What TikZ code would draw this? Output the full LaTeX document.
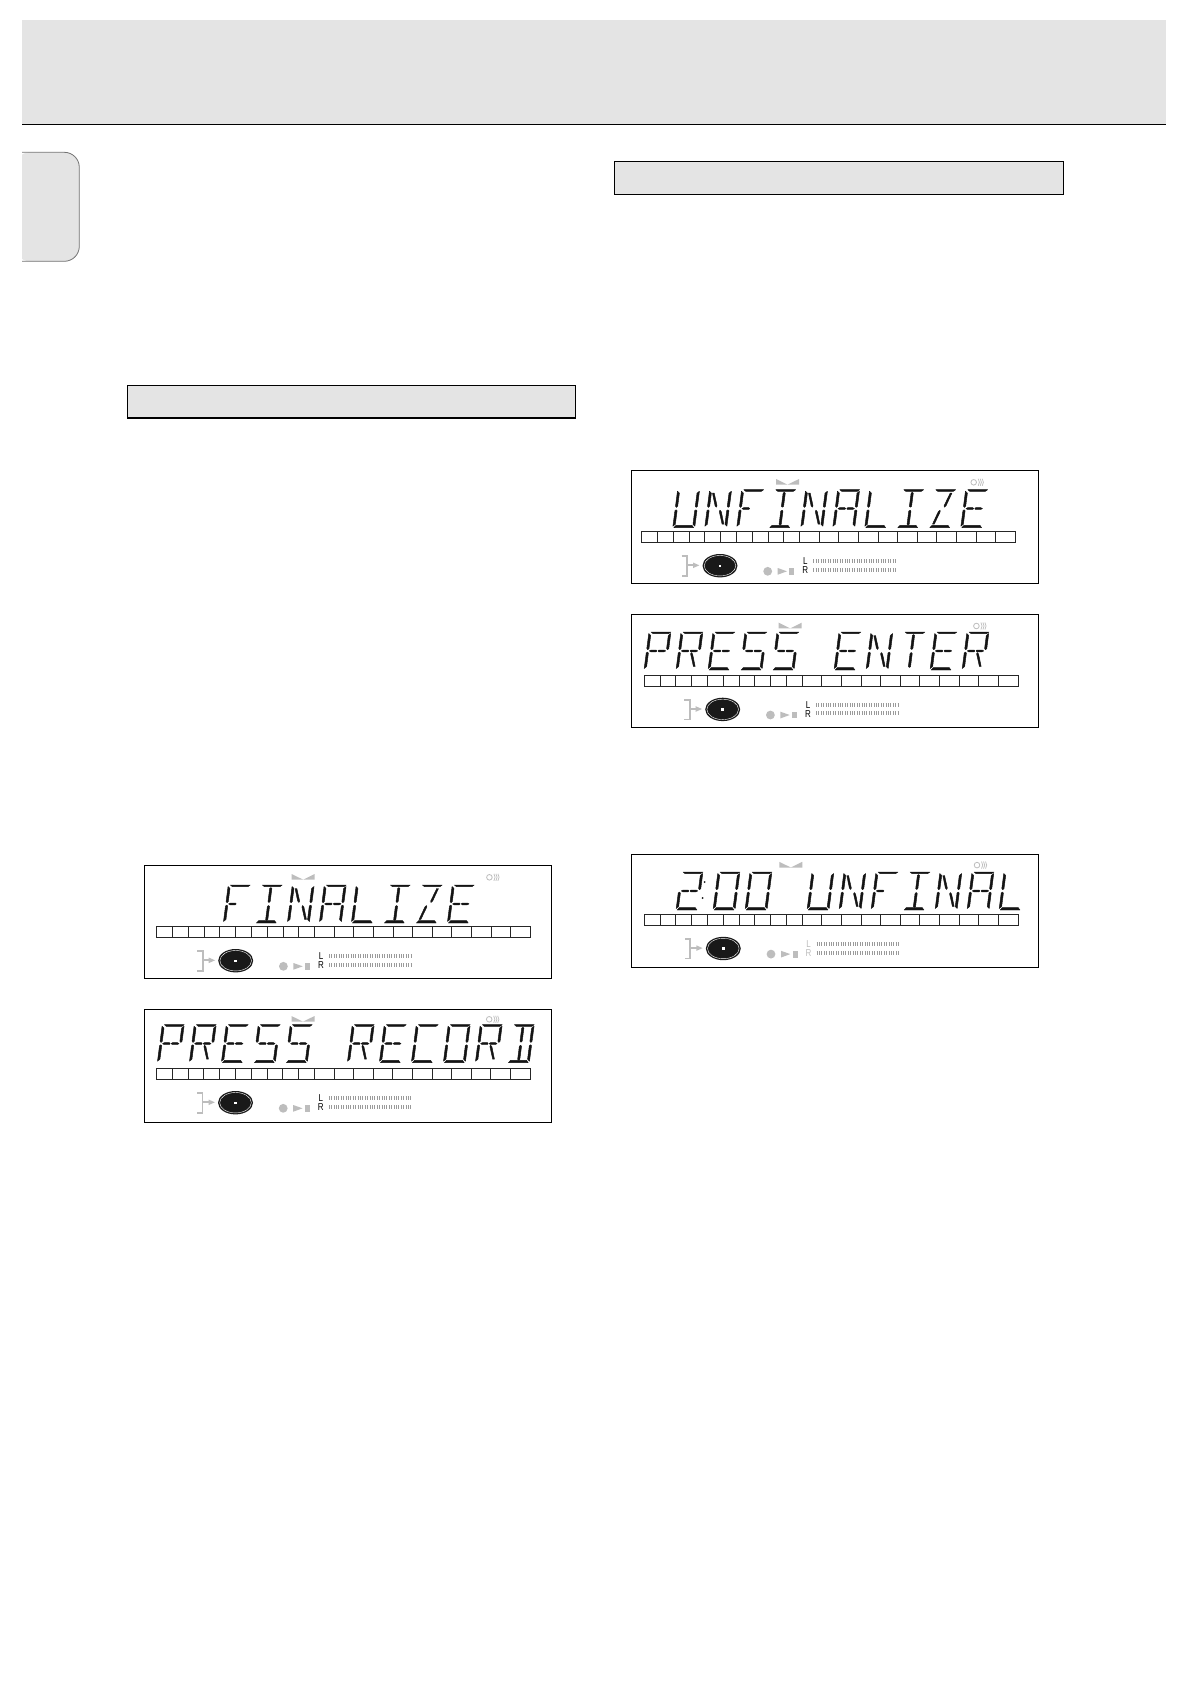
\documentclass[tikz,border=0pt]{standalone}
\usepackage{fontspec}
\setmainfont{Liberation Sans}
\newfontfamily\lrfont[FakeStretch=0.8]{Liberation Sans}
\definecolor{band}{HTML}{E4E4E4}
\definecolor{icongray}{HTML}{BDBDBD}
\definecolor{seg}{HTML}{141414}
\definecolor{levelgray}{HTML}{9A9A9A}
\tikzset{
  segfill/.style={fill=seg,draw=seg,line width=.45pt,line join=round},
  panelbox/.style={draw=black,line width=1pt,fill=white},
  headerbox/.style={draw=black,line width=1.1pt,fill=band},
  cellline/.style={draw=black!85,line width=0.9pt},
  iconfill/.style={fill=icongray},
  iconline/.style={draw=icongray,line width=1.7pt},
  levelbar/.style={draw=levelgray,line width=4pt,dash pattern=on 0.9pt off 1.5pt},
  lrlabel/.style={inner sep=0pt,font=\lrfont\fontsize{10}{10}\selectfont}
}
% ---- 14 segments, local frame: x right, y up, 20 wide, 38 high
\def\segA{\fill[segfill] (2,38)--(20,38)--(18,36.3)--(4,36.3)--cycle;}
\def\segD{\fill[segfill] (1,0)--(19,0)--(17.2,2.4)--(2.8,2.4)--cycle;}
\def\segF{\fill[segfill] (0,36.5)--(2,34.5)--(2,21.5)--(1,20.3)--(0,21.5)--cycle;}
\def\segE{\fill[segfill] (0,17)--(1,17.9)--(2,17)--(2,3.5)--(0,1.5)--cycle;}
\def\segB{\fill[segfill] (20,36.5)--(18,34.5)--(18,21.5)--(19,20.3)--(20,21.5)--cycle;}
\def\segC{\fill[segfill] (20,17)--(19,17.9)--(18,17)--(18,3.5)--(20,1.5)--cycle;}
\def\segG{\fill[segfill] (2.5,19.1)--(4,20)--(8.7,20)--(9.5,19.1)--(8.7,18.2)--(4,18.2)--cycle;}
\def\segP{\fill[segfill] (10.5,19.1)--(11.3,20)--(16,20)--(17.5,19.1)--(16,18.2)--(11.3,18.2)--cycle;}
\def\segI{\fill[segfill] (10,35.5)--(11,34.5)--(11,21.5)--(10,20.5)--(9,21.5)--(9,34.5)--cycle;}
\def\segL{\fill[segfill] (10,17.5)--(11,16.5)--(11,3.5)--(10,2.5)--(9,3.5)--(9,16.5)--cycle;}
\def\segH{\fill[segfill] (3,34.5)--(4.6,34.5)--(8.6,22)--(8.2,20.5)--(6.8,22)--cycle;}
\def\segJ{\fill[segfill] (17,34.5)--(15.4,34.5)--(11.4,22)--(11.8,20.5)--(13.2,22)--cycle;}
\def\segK{\fill[segfill] (3,3.5)--(4.6,3.5)--(8.6,16)--(8.2,17.5)--(6.8,16)--cycle;}
\def\segM{\fill[segfill] (17,3.5)--(15.4,3.5)--(11.4,16)--(11.8,17.5)--(13.2,16)--cycle;}
% ---- letters
\def\lcdGF{\segA\segF\segE\segG}
\def\lcdGI{\segA\segD\segI\segL}
\def\lcdGN{\segF\segE\segB\segC\segH\segM}
\def\lcdGA{\segA\segF\segE\segB\segC\segG\segP}
\def\lcdGL{\segF\segE\segD}
\def\lcdGZ{\segA\segJ\segK\segD}
\def\lcdGE{\segA\segF\segE\segD\segG\segP}
\def\lcdGU{\segF\segE\segD\segC\segB}
\def\lcdGP{\segA\segF\segE\segB\segG\segP}
\def\lcdGR{\segA\segF\segE\segB\segG\segP\segM}
\def\lcdGS{\segA\segF\segG\segP\segC\segD}
\def\lcdGC{\segA\segF\segE\segD}
\def\lcdGO{\segA\segB\segC\segD\segE\segF}
\def\lcdGD{\segA\segB\segC\segD\segI\segL}
\def\lcdGT{\segA\segI\segL}
\expandafter\def\csname lcdG0\endcsname{\segA\segB\segC\segD\segE\segF}
\expandafter\def\csname lcdG2\endcsname{\segA\segB\segG\segP\segE\segD}
\def\lcdchar#1{%
  \ifx#1~\pgfmathsetmacro\lcdx{\lcdx+30}%
  \else\ifx#1:%
    \begin{scope}[shift={(\lcdx,\lcdy)},y=1pt,xslant=.13]
      \fill[seg] (-7,28) circle[radius=1pt];
      \fill[seg] (-7,12) circle[radius=1pt];
    \end{scope}%
    \pgfmathsetmacro\lcdx{\lcdx+5}%
  \else
    \begin{scope}[shift={(\lcdx,\lcdy)},y=1pt,xslant=.13,xscale=1.1]
      \csname lcdG#1\endcsname
    \end{scope}%
    \pgfmathsetmacro\lcdx{\lcdx+32}%
  \fi\fi}
\def\lcdscan#1{\ifx#1\relax\let\lcdnext\relax\else\lcdchar{#1}\let\lcdnext\lcdscan\fi\lcdnext}
\def\lcdtext#1#2#3{\def\lcdx{#1}\def\lcdy{#2}\lcdscan#3\relax}
% ---- display frame: id, box x, box y, strip dx, strip dy, icon dx, icon dy, L/R colour
\newcommand{\lcdpanel}[8]{%
  \path[panelbox] (#2,#3) rectangle ++(407,113);
  \begin{scope}[shift={(#2+#4,#3+#5)}]
    \draw[cellline] (0,0) rectangle (374,11);
    \foreach \k in {1,...,10}{\draw[cellline] ({\k*15.8},0)--({\k*15.8},11);}
    \foreach \k in {1,...,10}{\draw[cellline] ({158+\k*19.6},0)--({158+\k*19.6},11);}
  \end{scope}
  \begin{scope}[shift={(#2+#6,#3+#7)}]
    % bowtie marks
    \fill[iconfill] (147,9)--(158.5,14.7)--(147,14.7)--cycle;
    \fill[iconfill] (170,9)--(158.5,14.7)--(170,14.7)--cycle;
    % sound icon
    \draw[draw=icongray,line width=.8pt] (344.7,12.3) circle[radius=2.8pt];
    \foreach \q in {349.2,351.2,353.2}{\draw[draw=icongray,line width=.7pt] (\q,8.8) .. controls (\q+1.6,11) and (\q+1.6,13.6) .. (\q,15.8);}
    % input bracket and arrow
    \draw[iconline] (52.7,86.3)--(58,86.3)--(58,105.7)--(52.7,105.7);
    \draw[iconline] (58,95.3)--(65,95.3);
    \fill[iconfill] (64,92.5)--(70.3,95.3)--(64,98.1)--cycle;
    % disc
    \fill[black!90] (91,95.7) ellipse[x radius=17.5pt,y radius=11.7pt];
    \draw[white,line width=.4pt] (91,95.7) ellipse[x radius=15.8pt,y radius=10.2pt];
    \fill[white] (89.6,94.6) rectangle (92.4,96.8);
    % transport icons
    \fill[iconfill] (138.7,101.3) circle[radius=4.4pt];
    \fill[iconfill] (148.7,98)--(158,101.3)--(148.7,104.7)--cycle;
    \fill[iconfill] (160.3,98) rectangle (165.3,104.7);
    % level meters
    \node[lrlabel,text=#8] (#1L) at (176.3,90.9) {L};
    \node[lrlabel,text=#8] (#1R) at (176.3,100.1) {R};
    \draw[levelbar] (184.3,91.3)--(267.7,91.3);
    \draw[levelbar] (184.3,99.7)--(267.7,99.7);
  \end{scope}}
\begin{document}
\begin{tikzpicture}[x=1pt,y=-1pt]
\useasboundingbox[fill=white] (0,0) rectangle (1190,1684);
% page furniture
\fill[band] (22,19.5) rectangle (1166.4,124.3);
\draw[black,line width=1pt] (22,124.3)--(1166.4,124.3);
\fill[band,rounded corners=15pt] (15,152.3) -| (79.3,261.3) -- (15,261.3) -- cycle;
\fill[white] (0,150) rectangle (22,265);
\draw[draw=black!55,line width=.8pt,rounded corners=15pt] (22,152.3) -| (79.3,261.3) -- (22,261.3);
\path[headerbox] (127.3,385.3) rectangle (575.8,418);
\path[headerbox] (614.5,161.3) rectangle (1063.5,194.3);
% displays
\lcdpanel{fin}{144.7}{865}{12}{61.7}{0}{0}{black}
\lcdtext{223.3}{923}{FINALIZE}
\lcdpanel{rec}{144.5}{1009.5}{12}{58.8}{0}{-2.5}{black}
\lcdtext{157.3}{1062.7}{PRESS~RECORD}
\lcdpanel{unf}{631}{470.3}{10.7}{61}{-2}{-.3}{black}
\lcdtext{672.7}{527.7}{UNFINALIZE}
\lcdpanel{ent}{631}{614.7}{13.3}{60.3}{.7}{-1}{black}
\lcdtext{644}{670}{PRESS~ENTER}
\lcdpanel{unl}{631.3}{854.3}{13}{59.7}{1}{-1.5}{icongray}
\lcdtext{676}{910}{2:00~UNFINAL}
\end{tikzpicture}
\end{document}
